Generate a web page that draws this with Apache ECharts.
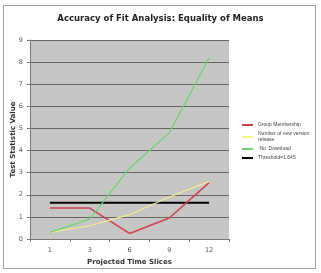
<!DOCTYPE html>
<html><head><meta charset="utf-8">
<script src="https://cdn.jsdelivr.net/npm/echarts@6/dist/echarts.min.js"></script>
<style>html,body{margin:0;padding:0;background:#fff}#c{width:321px;height:273px}
#frame{position:absolute;left:3px;top:5px;width:313px;height:264px;border:1px solid #a0a0a0;box-sizing:border-box;pointer-events:none}</style>
</head><body><div id="c"></div><div id="frame"></div>
<script>
const categories = ['1','3','6','9','12'];
const groupMembership = [1.4, 1.4, 0.25, 0.95, 2.55];
const newVersionRelease = [0.3, 0.6, 1.1, 1.9, 2.6];
const noDownload = [0.3, 0.9, 3.2, 4.8, 8.2];
const threshold = [1.645, 1.645, 1.645, 1.645, 1.645];

const chart = echarts.init(document.getElementById('c'), null, {renderer:'canvas'});
const lbl = {fontFamily:'DejaVu Sans', fontSize:6.5, color:'#555'};
chart.setOption({
  animation:false,
  backgroundColor:'#fff',
  title:{text:'Accuracy of Fit Analysis: Equality of Means', left:'center', top:9,
    textStyle:{fontFamily:'DejaVu Sans', fontSize:8.5, fontWeight:'bold', color:'#222'}},
  grid:{left:30, right:92, top:40, bottom:34, show:true, backgroundColor:'#c6c6c6', borderWidth:0,
    containLabel:false, outerBoundsMode:'none'},
  legend:{orient:'vertical', left:237, top:117, itemWidth:11, itemHeight:2, itemGap:3,
    icon:'rect', textStyle:{fontFamily:'Liberation Sans', fontSize:5, color:'#444', lineHeight:6},
    data:['Group Membership','Number of new version\nrelease',' No. Download','Threshold=1.645']},
  xAxis:{type:'category', data:categories, boundaryGap:true,
    name:'Projected Time Slices', nameLocation:'middle', nameGap:19,
    nameTextStyle:{fontFamily:'DejaVu Sans', fontSize:7, fontWeight:'bold', color:'#333'},
    axisLine:{lineStyle:{color:'#777'}}, axisTick:{show:true, length:3, lineStyle:{color:'#777'}},
    axisLabel:Object.assign({margin:8}, lbl), splitLine:{show:false}},
  yAxis:{type:'value', min:0, max:9, interval:1,
    name:'Test Statistic Value', nameLocation:'middle', nameGap:13, nameRotate:90, nameMoveOverlap:false,
    nameTextStyle:{fontFamily:'DejaVu Sans', fontSize:7, fontWeight:'bold', color:'#333'},
    axisLine:{show:true, lineStyle:{color:'#777'}}, axisTick:{show:true, length:3, lineStyle:{color:'#777'}},
    axisLabel:Object.assign({margin:7}, lbl),
    splitLine:{show:true, lineStyle:{color:'#666', width:1}}},
  series:[
    {name:'Group Membership', type:'line', data:groupMembership, symbol:'none', color:'#d04050', lineStyle:{width:1.5}},
    {name:'Number of new version\nrelease', type:'line', data:newVersionRelease, symbol:'none', color:'#f4f08a', lineStyle:{width:1.2}},
    {name:' No. Download', type:'line', data:noDownload, symbol:'none', color:'#6ad66a', lineStyle:{width:1.2}},
    {name:'Threshold=1.645', type:'line', data:threshold, symbol:'none', color:'#000', lineStyle:{width:2}, z:1}
  ]
});
</script></body></html>
